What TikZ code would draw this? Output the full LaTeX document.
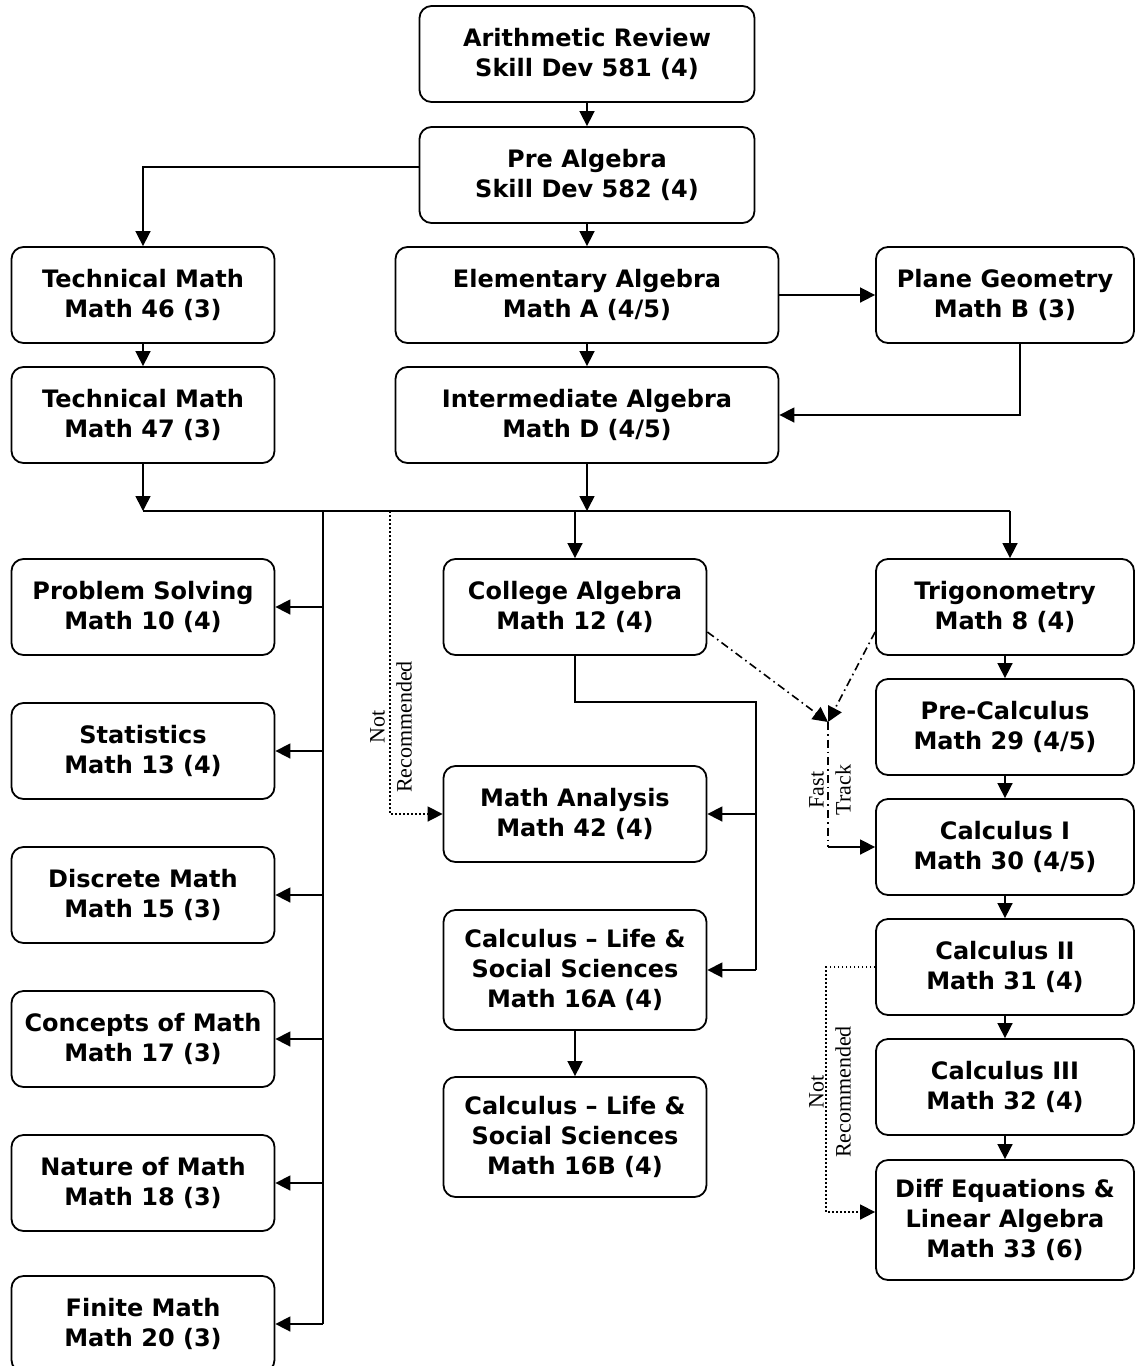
\documentclass[tikz,border=0pt]{standalone}
\usepackage{fontspec}
\setsansfont{DejaVu Sans}
\newfontfamily\notefont{Liberation Serif}
\usetikzlibrary{arrows.meta,calc,positioning}

\tikzset{
  course/.style={draw, rounded corners=6pt, line width=0.9pt, align=center,
    inner sep=0pt, minimum height=48pt, minimum width=131.5pt,
    font=\sffamily\bfseries\fontsize{12}{15}\selectfont},
  tall/.style={minimum height=60pt},
  note/.style={font=\notefont\fontsize{11}{13.5}\selectfont, align=center, rotate=90},
  fast/.style={dash pattern=on 4pt off 2pt on 0.8pt off 2pt},
  notrec/.style={dash pattern=on 0.8pt off 1.2pt},
  >={Triangle[length=7.5pt,width=7.5pt]}
}

\begin{document}
\begin{tikzpicture}[x=0.5pt,y=-0.5pt,line width=0.8pt]
        \useasboundingbox (0,0) rectangle (1135,1366);

        % top of the chart
        \node[course, minimum width=167.5pt] (arith) at (587,54) {Arithmetic Review\\Skill Dev 581 (4)};
        \node[course, minimum width=167.5pt] (prealg) at (587,175) {Pre Algebra\\Skill Dev 582 (4)};
        \node[course] (tech46) at (143,295) {Technical Math\\Math 46 (3)};
        \node[course, minimum width=191.5pt] (elem) at (587,295) {Elementary Algebra\\Math A (4/5)};
        \node[course, minimum width=129pt] (plane) at (1005,295) {Plane Geometry\\Math B (3)};
        \node[course] (tech47) at (143,415) {Technical Math\\Math 47 (3)};
        \node[course, minimum width=191.5pt] (inter) at (587,415) {Intermediate Algebra\\Math D (4/5)};

        % left column
        \node[course] (probsolv) at (143,607) {Problem Solving\\Math 10 (4)};
        \node[course] (stats) at (143,751) {Statistics\\Math 13 (4)};
        \node[course] (discrete) at (143,895) {Discrete Math\\Math 15 (3)};
        \node[course] (concepts) at (143,1039) {Concepts of Math\\Math 17 (3)};
        \node[course] (nature) at (143,1183) {Nature of Math\\Math 18 (3)};
        \node[course] (finite) at (143,1324) {Finite Math\\Math 20 (3)};

        % middle column
        \node[course] (colalg) at (575,607) {College Algebra\\Math 12 (4)};
        \node[course] (analysis) at (575,814) {Math Analysis\\Math 42 (4)};
        \node[course, tall] (lifeA) at (575,970) {Calculus -- Life \&\\Social Sciences\\Math 16A (4)};
        \node[course, tall] (lifeB) at (575,1137) {Calculus -- Life \&\\Social Sciences\\Math 16B (4)};

        % right column
        \node[course, minimum width=129pt] (trig) at (1005,607) {Trigonometry\\Math 8 (4)};
        \node[course, minimum width=129pt] (precalc) at (1005,727) {Pre-Calculus\\Math 29 (4/5)};
        \node[course, minimum width=129pt] (calcI) at (1005,847) {Calculus I\\Math 30 (4/5)};
        \node[course, minimum width=129pt] (calcII) at (1005,967) {Calculus II\\Math 31 (4)};
        \node[course, minimum width=129pt] (calcIII) at (1005,1087) {Calculus III\\Math 32 (4)};
        \node[course, minimum width=129pt, tall] (diffeq) at (1005,1220) {Diff Equations \&\\Linear Algebra\\Math 33 (6)};

        \coordinate (busL) at (143,511);
        \coordinate (busR) at (1010,511);
        \coordinate (trunk) at (323,511);
        \coordinate (nr) at (390,511);
        \coordinate (split) at (756,702);
        \coordinate (ft) at (828,722);

        \draw[->] (arith) -- (prealg);
        \draw[->] (prealg) -- (elem);
        \draw[->] ($(prealg.west)+(0,-8)$) -| (tech46.north);
        \draw[->] (tech46) -- (tech47);
        \draw[->] (elem) -- (inter);
        \draw[->] (elem) -- (plane);
        \draw[->] ($(plane.south)+(15,0)$) |- (inter.east);

        % common line under the algebra courses
        \draw[->] (tech47) -- (busL);
        \draw[->] (inter) -- (inter |- busL);
        \draw (busL) -- (busR);
        \draw[->] (colalg |- busL) -- (colalg);
        \draw[->] (busR) -- (trig.north -| busR);

        \draw (trunk) -- (trunk |- finite);
        \foreach \n in {probsolv,stats,discrete,concepts,nature,finite} {
          \draw[->] (trunk |- \n) -- (\n.east);
        }

        \draw (colalg) -- (colalg |- split) -- (split) -- (split |- lifeA);
        \draw[->] (split |- analysis) -- (analysis.east);
        \draw[->] (split |- lifeA) -- (lifeA.east);
        \draw[->] (lifeA) -- (lifeB);

        \foreach \a/\b in {trig/precalc,precalc/calcI,calcI/calcII,calcII/calcIII,calcIII/diffeq} {
          \draw[->] (\a) -- (\b);
        }

        % fast track
        \draw[fast,->] ($(colalg.east)+(0,25)$) -- (ft);
        \draw[fast,->] ($(trig.west)+(0,25)$) -- (ft);
        \draw[fast] (ft) -- (ft |- calcI);
        \draw[->] (ft |- calcI) -- (calcI.west);
        \node[note] (fastlbl) at (830,790) {Fast\\Track};

        % not recommended
        \draw[notrec,->] (nr) |- (analysis.west);
        \node[note] (nrlblA) at (391,727) {Not\\Recommended};
        \draw[notrec,->] (calcII.west) -- ++(-49,0) |- ($(diffeq.west)+(0,-8)$);
        \node[note] (nrlblB) at (830,1092) {Not\\Recommended};
\end{tikzpicture}
\end{document}
